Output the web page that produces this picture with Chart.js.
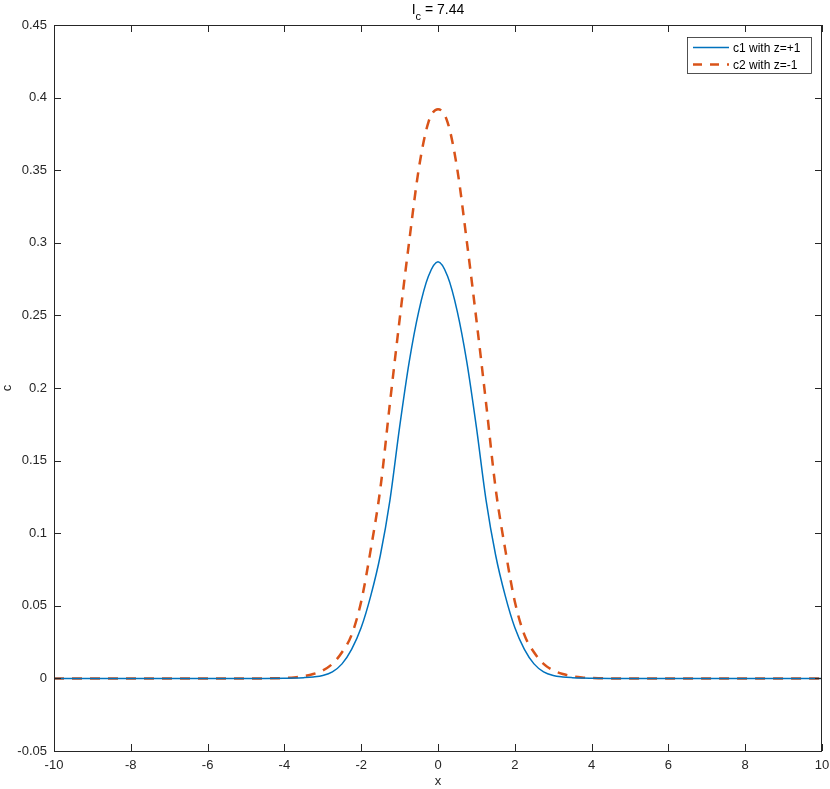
<!DOCTYPE html>
<html>
<head>
<meta charset="utf-8">
<script src="https://cdn.jsdelivr.net/npm/chart.js@4.4.0/dist/chart.umd.min.js"></script>
<style>
  html, body { margin: 0; padding: 0; background: #fff; }
  #wrap { width: 830px; height: 789px; }
</style>
</head>
<body>
<div id="wrap"><canvas id="grafica" width="830" height="789"></canvas></div>
<script>
//--------------------- Datos -------------------------------------------
const xVals = [-10, -8, -6, -4.5, -4, -3.75, -3.5, -3.25, -3, -2.75, -2.5, -2.25, -2, -1.75, -1.5, -1.25, -1, -0.75, -0.5, -0.25,
               0, 0.25, 0.5, 0.75, 1, 1.25, 1.5, 1.75, 2, 2.25, 2.5, 2.75, 3, 3.25, 3.5, 3.75, 4, 4.5, 6, 8, 10];

// c1 con z=+1 (linea continua azul)
const c1Vals = [0, 0, 0, 0, 0.0001, 0.0002, 0.0005, 0.001, 0.002, 0.0045, 0.010, 0.020, 0.035, 0.057, 0.085, 0.123, 0.173, 0.218, 0.253, 0.277,
                0.287, 0.277, 0.253, 0.218, 0.173, 0.123, 0.085, 0.057, 0.035, 0.020, 0.010, 0.0045, 0.002, 0.001, 0.0005, 0.0002, 0.0001, 0, 0, 0, 0];

// c2 con z=-1 (linea discontinua naranja)
const c2Vals = [0, 0, 0, 0, 0.0003, 0.0007, 0.0015, 0.003, 0.0055, 0.010, 0.018, 0.030, 0.053, 0.089, 0.131, 0.190, 0.247, 0.301, 0.351, 0.383,
                0.392, 0.383, 0.351, 0.301, 0.247, 0.190, 0.131, 0.089, 0.053, 0.030, 0.018, 0.010, 0.0055, 0.003, 0.0015, 0.0007, 0.0003, 0, 0, 0, 0];

const xTicks = [-10, -8, -6, -4, -2, 0, 2, 4, 6, 8, 10];
const yTicks = [-0.05, 0, 0.05, 0.1, 0.15, 0.2, 0.25, 0.3, 0.35, 0.4, 0.45];
const seriesLabels = ['c1 with z=+1', 'c2 with z=-1'];

const azul = '#0072BD';
const naranja = '#D95319';
const tinta = '#262626';
const fuente = '"Liberation Sans", Arial, Helvetica, sans-serif';

//--------------------- Plugin: caja, ticks interiores, titulos y leyenda -----------------------
const marcoMatlab = {
  id: 'marcoMatlab',
  afterDraw(chart) {
    const { ctx, chartArea: a, scales } = chart;
    const sx = scales.x, sy = scales.y;
    ctx.save();
    ctx.strokeStyle = tinta;
    ctx.lineWidth = 1;
    ctx.strokeRect(a.left + 0.5, a.top + 0.5, a.right - a.left - 1, a.bottom - a.top);

    // ticks hacia dentro en los cuatro lados
    ctx.beginPath();
    xTicks.forEach(v => {
      const px = Math.round(sx.getPixelForValue(v)) + 0.5;
      ctx.moveTo(px, a.bottom); ctx.lineTo(px, a.bottom - 7);
      ctx.moveTo(px, a.top); ctx.lineTo(px, a.top + 7);
    });
    yTicks.forEach(v => {
      const py = Math.round(sy.getPixelForValue(v)) + 0.5;
      ctx.moveTo(a.left, py); ctx.lineTo(a.left + 7, py);
      ctx.moveTo(a.right, py); ctx.lineTo(a.right - 7, py);
    });
    ctx.stroke();

    // titulo I_c = 7.44
    ctx.fillStyle = '#000';
    ctx.textBaseline = 'alphabetic';
    const parteI = 'I', parteResto = ' = 7.44';
    ctx.font = '14px ' + fuente;
    const wI = ctx.measureText(parteI).width;
    const wR = ctx.measureText(parteResto).width;
    ctx.font = '11px ' + fuente;
    const wC = ctx.measureText('c').width;
    let tx = (a.left + a.right) / 2 - (wI + wC + wR) / 2;
    ctx.font = '14px ' + fuente;
    ctx.textAlign = 'left';
    ctx.fillText(parteI, tx, 14);
    ctx.font = '11px ' + fuente;
    ctx.fillText('c', tx + wI, 20);
    ctx.font = '14px ' + fuente;
    ctx.fillText(parteResto, tx + wI + wC, 14);

    // etiquetas de ejes
    ctx.fillStyle = tinta;
    ctx.font = '13px ' + fuente;
    ctx.textAlign = 'center';
    ctx.textBaseline = 'middle';
    ctx.fillText('x', (a.left + a.right) / 2, 781);
    ctx.save();
    ctx.translate(7, (a.top + a.bottom) / 2);
    ctx.rotate(-Math.PI / 2);
    ctx.fillText('c', 0, 0);
    ctx.restore();

    // leyenda
    const lx = 687.5, ly = 37.5, lw = 124, lh = 36;
    ctx.fillStyle = '#fff';
    ctx.fillRect(lx, ly, lw, lh);
    ctx.strokeStyle = tinta;
    ctx.lineWidth = 0.8;
    ctx.strokeRect(lx, ly, lw, lh);
    const filas = [47.5, 64.5];
    ctx.lineWidth = 1.5;
    ctx.strokeStyle = azul;
    ctx.beginPath(); ctx.moveTo(693, filas[0]); ctx.lineTo(729, filas[0]); ctx.stroke();
    ctx.lineWidth = 2.5;
    ctx.strokeStyle = naranja;
    ctx.setLineDash([9, 8]);
    ctx.beginPath(); ctx.moveTo(693, filas[1]); ctx.lineTo(729, filas[1]); ctx.stroke();
    ctx.setLineDash([]);
    ctx.fillStyle = '#000';
    ctx.font = '12px ' + fuente;
    ctx.textAlign = 'left';
    ctx.textBaseline = 'middle';
    seriesLabels.forEach((t, i) => ctx.fillText(t, 733, filas[i] + 1));
    ctx.restore();
  }
};

//--------------------- Grafica -----------------------
const ctxC = document.getElementById('grafica').getContext('2d');
const grafica = new Chart(ctxC, {
  type: 'scatter',
  data: {
    datasets: [{
      label: seriesLabels[0],
      data: xVals.map((x, i) => ({ x: x, y: c1Vals[i] })),
      showLine: true,
      borderColor: azul,
      borderWidth: 1.5,
      pointRadius: 0,
      cubicInterpolationMode: 'monotone'
    }, {
      label: seriesLabels[1],
      data: xVals.map((x, i) => ({ x: x, y: c2Vals[i] })),
      showLine: true,
      borderColor: naranja,
      borderWidth: 2.5,
      borderDash: [10, 8],
      pointRadius: 0,
      cubicInterpolationMode: 'monotone'
    }]
  },
  options: {
    responsive: false,
    animation: false,
    events: [],
    layout: { padding: { left: 0, top: 25, right: 8, bottom: 0 } },
    plugins: { legend: { display: false }, title: { display: false }, tooltip: { enabled: false } },
    scales: {
      x: {
        type: 'linear', min: -10, max: 10,
        afterFit: s => { s.height = 38; s.paddingLeft = 0; s.paddingRight = 0; },
        afterBuildTicks: s => { s.ticks = xTicks.map(v => ({ value: v })); },
        grid: { display: false, drawTicks: false },
        border: { display: false },
        ticks: { color: tinta, font: { family: fuente, size: 13 }, padding: 7, maxRotation: 0, autoSkip: false,
                 callback: v => String(v) }
      },
      y: {
        type: 'linear', min: -0.05, max: 0.45,
        afterFit: s => { s.width = 54; s.paddingTop = 0; s.paddingBottom = 0; },
        afterBuildTicks: s => { s.ticks = yTicks.map(v => ({ value: v })); },
        grid: { display: false, drawTicks: false },
        border: { display: false },
        ticks: { color: tinta, font: { family: fuente, size: 13 }, padding: 7, autoSkip: false,
                 callback: v => String(parseFloat(Number(v).toFixed(2))) }
      }
    }
  },
  plugins: [marcoMatlab]
});
</script>
</body>
</html>
